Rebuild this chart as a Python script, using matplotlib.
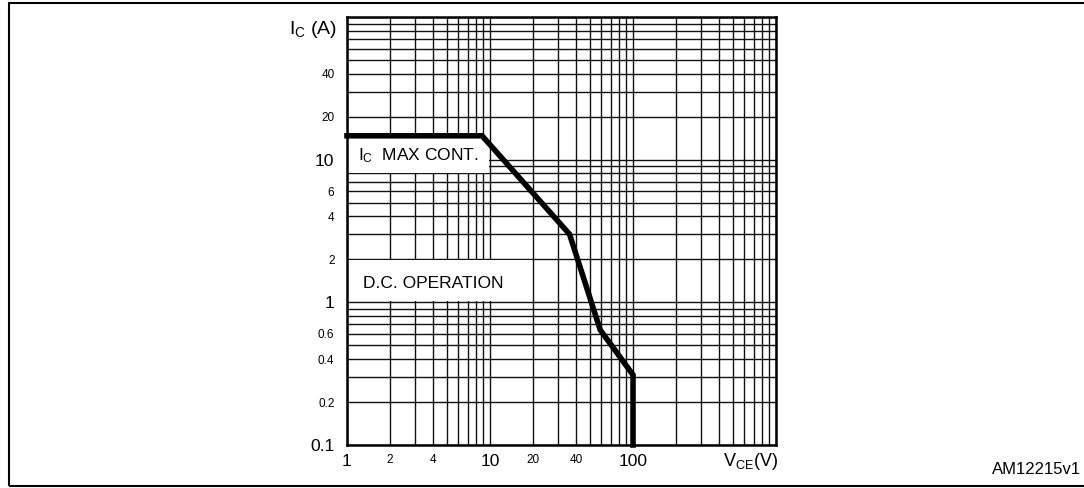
import matplotlib.pyplot as plt
from matplotlib import font_manager
from matplotlib.patches import Rectangle
from matplotlib.ticker import LogLocator, NullFormatter

# safe operating area, DC operation
vce_points = [1, 8.8, 36, 59, 100, 100]
ic_points = [14.7, 14.7, 3.0, 0.64, 0.31, 0.1]

x_tick_values = [1, 2, 4, 10, 20, 40, 100]
x_tick_labels = ["1", "2", "4", "10", "20", "40", "100"]
y_tick_values = [0.1, 0.2, 0.4, 0.6, 1, 2, 4, 6, 10, 20, 40]
y_tick_labels = ["0.1", "0.2", "0.4", "0.6", "1", "2", "4", "6", "10", "20", "40"]
big_labels = {"0.1", "1", "10", "100"}

plt.rcParams["font.family"] = ["Liberation Sans", "DejaVu Sans"]
plt.rcParams["mathtext.fontset"] = "custom"
plt.rcParams["mathtext.rm"] = "Liberation Sans"

try:
    font_manager.findfont("Liberation Sans Narrow", fallback_to_default=False)
    narrow = ["Liberation Sans Narrow", "DejaVu Sans"]
except ValueError:
    narrow = ["Liberation Sans", "DejaVu Sans"]

fig = plt.figure(figsize=(10.84, 4.88), dpi=100)
ax = fig.add_axes([0.3201, 0.0881, 0.3958, 0.8771])
ax.set_xscale("log")
ax.set_yscale("log")
ax.set_xlim(1, 1000)
ax.set_ylim(0.1, 100)

ax.set_xticks(x_tick_values, x_tick_labels)
ax.set_yticks(y_tick_values, y_tick_labels)
ax.xaxis.set_minor_locator(LogLocator(base=10, subs=range(1, 10), numticks=50))
ax.yaxis.set_minor_locator(LogLocator(base=10, subs=range(1, 10), numticks=50))
ax.xaxis.set_minor_formatter(NullFormatter())
ax.yaxis.set_minor_formatter(NullFormatter())
ax.tick_params(which="both", length=0)
ax.tick_params(axis="x", pad=6.5)
ax.tick_params(axis="y", pad=9)
for lab in ax.get_xticklabels() + ax.get_yticklabels():
    lab.set_fontsize(12.5 if lab.get_text() in big_labels else 8.5)

ax.grid(which="both", color="#111111", linewidth=1.0)
ax.set_axisbelow(True)
for side in ax.spines.values():
    side.set_linewidth(1.8)

# white label boxes sitting on top of the grid
ax.add_patch(Rectangle((1, 8.1), 9.85 - 1, 14.7 - 8.1, facecolor="white",
                       edgecolor="none", zorder=1.5))
ax.add_patch(Rectangle((1, 1.02), 19.7 - 1, 1.97 - 1.02, facecolor="white",
                       edgecolor="none", zorder=1.5))

ax.plot(vce_points, ic_points, color="black", linewidth=4.0,
        solid_joinstyle="miter", clip_on=False, zorder=3)

ax.text(1.19, 10.7, r"$\mathregular{I_C}$  MAX CONT.", fontsize=12.5,
        family=narrow, va="center", ha="left", zorder=4)
ax.text(4.0, 1.36, "D.C. OPERATION", fontsize=12.5, family=narrow,
        va="center", ha="center", zorder=4)

fig.text(337 / 1084, 1 - 29 / 488, r"$\mathregular{I_C}$ (A)", fontsize=14,
         ha="right", va="center")
fig.text(778 / 1084, 1 - 462 / 488, r"$\mathregular{V_{CE}}$(V)", fontsize=13,
         ha="right", va="center")
fig.text(1081 / 1084, 1 - 469 / 488, "AM12215v1", fontsize=12,
         ha="right", va="center")

# page frame, its right edge runs off the picture
fig.add_artist(Rectangle((9 / 1084, 1 - 486 / 488), 1090 / 1084, 483 / 488,
                         transform=fig.transFigure, facecolor="none",
                         edgecolor="black", linewidth=1.5))

fig.savefig("out.png", dpi=100)
